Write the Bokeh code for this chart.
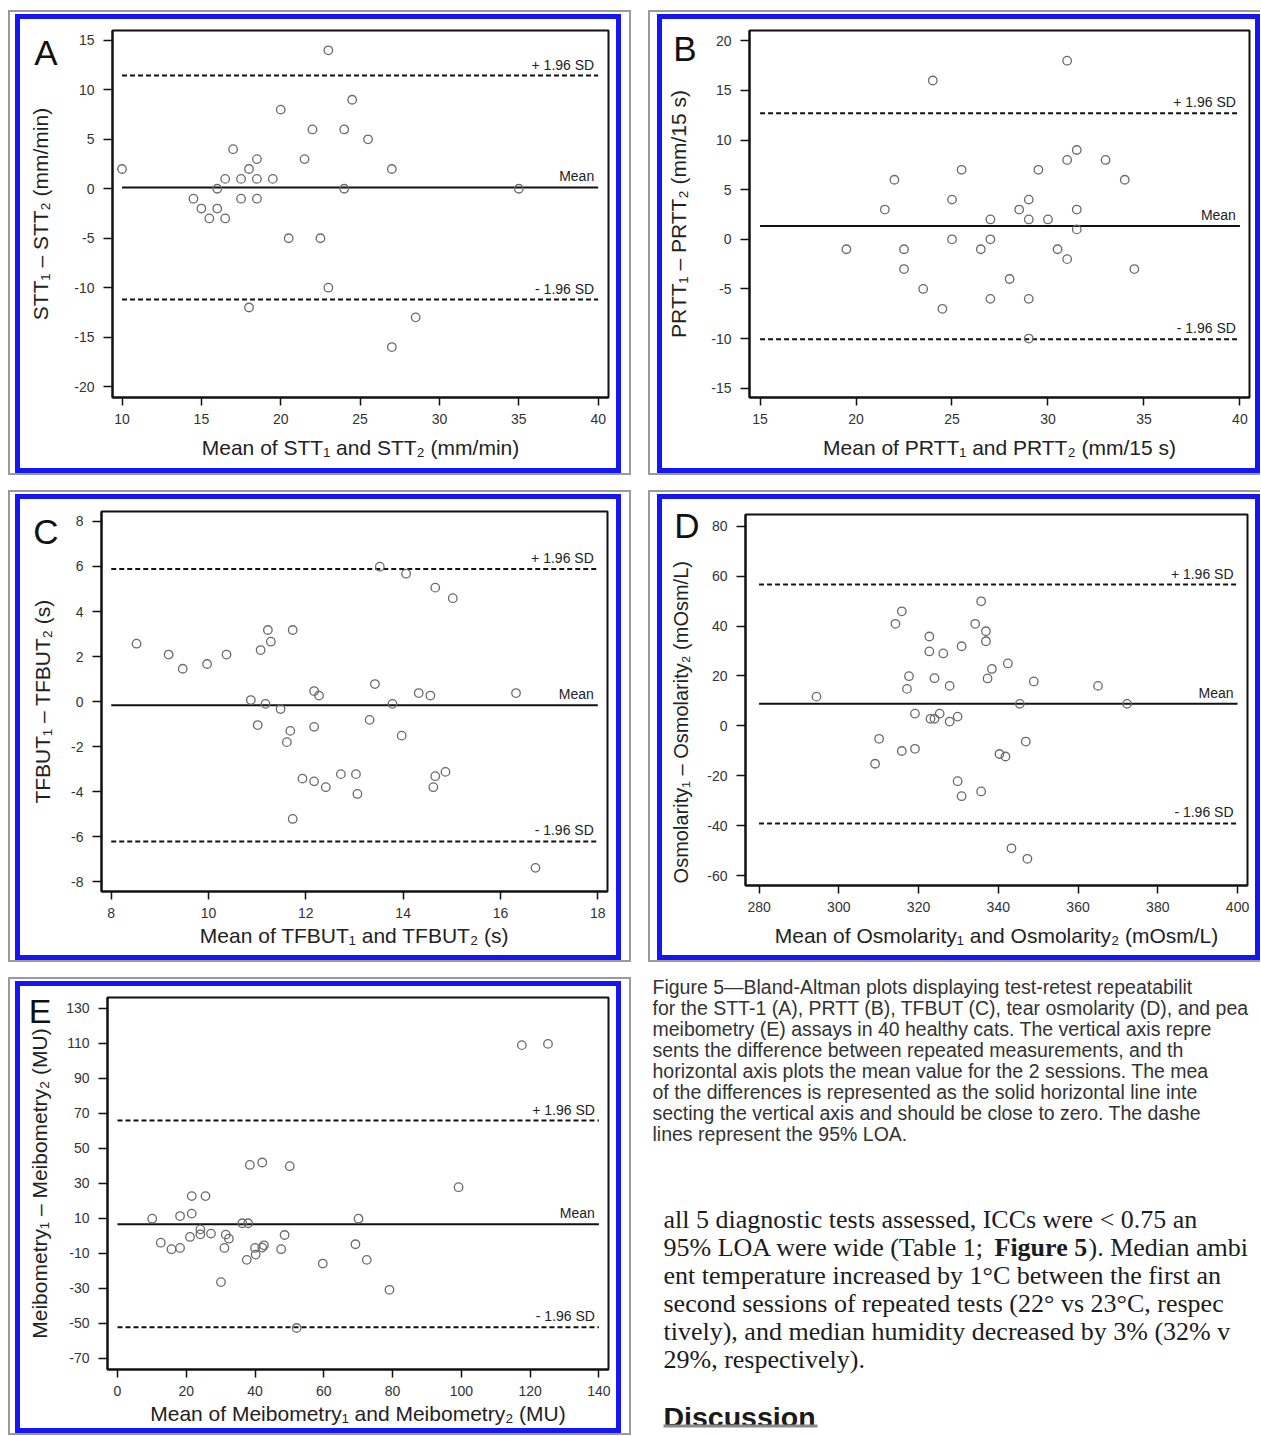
from bokeh.plotting import figure
from bokeh.models import Range1d, FixedTicker, Spacer, LinearAxis
from bokeh.layouts import row, column
from bokeh.embed import file_html
from bokeh.resources import INLINE
from bokeh.core.properties import value

# ---------------- data ----------------
# A: Schirmer tear test (STT-1)
stt_mean = [10, 14.5, 15, 15.5, 16, 16, 16.5, 16.5, 17, 17.5, 17.5, 18, 18, 18.5, 18.5, 18.5,
            19.5, 20, 20.5, 21.5, 22, 22.5, 23, 23, 24, 24, 24.5, 25.5, 27, 27, 28.5, 35]
stt_diff = [2, -1, -2, -3, 0, -2, 1, -3, 4, 1, -1, 2, -12, 3, 1, -1,
            1, 8, -5, 3, 6, -5, 14, -10, 6, 0, 9, 5, 2, -16, -13, 0]
stt_lines = [0.14, 11.45, -11.2]          # mean, +1.96 SD, -1.96 SD
stt_line_x = [10, 40]
stt_xticks = [10, 15, 20, 25, 30, 35, 40]
stt_yticks = [-20, -15, -10, -5, 0, 5, 10, 15]

# B: phenol red thread test (PRTT)
prtt_mean = [19.5, 21.5, 22, 22.5, 22.5, 23.5, 24, 24.5, 25, 25, 25.5, 26.5, 27, 27, 27, 28, 28.5,
             29, 29, 29, 29, 29.5, 30, 30.5, 31, 31, 31, 31.5, 31.5, 31.5, 33, 34, 34.5]
prtt_diff = [-1, 3, 6, -1, -3, -5, 16, -7, 4, 0, 7, -1, 2, 0, -6, -4, 3,
             4, 2, -6, -10, 7, 2, -1, 18, 8, -2, 9, 3, 1, 8, 6, -3]
prtt_lines = [1.34, 12.7, -10.07]
prtt_line_x = [15, 40]
prtt_xticks = [15, 20, 25, 30, 35, 40]
prtt_yticks = [-15, -10, -5, 0, 5, 10, 15, 20]

# C: tear film break-up time (TFBUT)
tfbut_mean = [8.52, 9.18, 9.47, 9.97, 10.37, 10.87, 11.01, 11.07, 11.17, 11.22, 11.28, 11.48,
              11.61, 11.68, 11.73, 11.73, 11.93, 12.17, 12.17, 12.17, 12.27, 12.41, 12.72, 13.03,
              13.06, 13.31, 13.42, 13.52, 13.78, 13.97, 14.06, 14.32, 14.56, 14.62, 14.66, 14.66,
              14.87, 15.02, 16.32, 16.72]
tfbut_diff = [2.57, 2.09, 1.46, 1.67, 2.09, 0.07, -1.04, 2.29, -0.10, 3.18, 2.66, -0.33,
              -1.80, -1.30, 3.18, -5.21, -3.42, 0.47, -1.12, -3.54, 0.27, -3.80, -3.22, -3.22,
              -4.10, -0.81, 0.78, 5.99, -0.10, -1.51, 5.68, 0.38, 0.27, -3.80, -3.31, 5.06,
              -3.12, 4.59, 0.38, -7.38]
tfbut_lines = [-0.16, 5.89, -6.21]
tfbut_line_x = [8, 18]
tfbut_xticks = [8, 10, 12, 14, 16, 18]
tfbut_yticks = [-8, -6, -4, -2, 0, 2, 4, 6, 8]

# D: tear osmolarity
osm_mean = [294.4, 309.1, 310.1, 314.2, 315.8, 315.8, 317.1, 317.6, 319.1, 319.1, 322.7, 322.7,
            323.0, 324.0, 324.0, 325.3, 326.2, 327.8, 327.8, 329.8, 329.8, 330.8, 330.8, 334.2,
            335.7, 335.7, 336.9, 336.9, 337.3, 338.4, 340.3, 341.8, 342.4, 343.3, 345.4, 346.9,
            347.3, 348.9, 365.0, 372.3]
osm_diff = [11.7, -15.2, -5.2, 40.9, 45.9, -10.1, 14.8, 19.9, -9.2, 4.9, 35.8, 29.8,
            2.8, 2.8, 19.1, 4.9, 29.0, 1.7, 16.0, -22.2, 3.7, 31.9, -28.2, 40.9,
            49.9, -26.3, 37.9, 33.9, 19.0, 22.8, -11.3, -12.3, 25.0, -49.1, 8.8, -6.3,
            -53.3, 17.8, 16.0, 8.8]
osm_lines = [8.8, 56.6, -39.1]
osm_line_x = [280, 400]
osm_xticks = [280, 300, 320, 340, 360, 380, 400]
osm_yticks = [-60, -40, -20, 0, 20, 40, 60, 80]

# E: meibometry
meib_mean = [10.1, 12.6, 15.7, 18.2, 18.2, 21.1, 21.6, 21.6, 24.1, 24.1, 25.6, 27.2, 30.1,
             31.1, 31.5, 32.4, 36.3, 37.6, 38.0, 38.5, 40.0, 40.2, 42.1, 42.1, 42.6, 47.6,
             48.6, 50.1, 52.1, 59.7, 69.2, 70.1, 72.5, 79.1, 99.2, 117.6, 125.2]
meib_diff = [9.8, -3.9, -7.6, 11.3, -6.9, -0.6, 22.7, 12.7, 3.7, 0.9, 22.7, 1.3, -26.4,
             -6.9, 0.7, -1.6, 7.2, -13.7, 7.2, 40.5, -6.9, -10.7, 41.9, -6.7, -5.4, -7.6,
             0.5, 39.8, -52.6, -15.8, -4.8, 9.8, -13.7, -30.8, 27.8, 108.9, 109.6]
meib_lines = [6.6, 65.8, -52.2]
meib_line_x = [0, 140]
meib_xticks = [0, 20, 40, 60, 80, 100, 120, 140]
meib_yticks = [-70, -50, -30, -10, 10, 30, 50, 70, 90, 110, 130]

line_names = ["Mean", "+ 1.96 SD", "- 1.96 SD"]

caption_lines = [
    "Figure 5\u2014Bland-Altman plots displaying test-retest repeatabilit",
    "for the STT-1 (A), PRTT (B), TFBUT (C), tear osmolarity (D), and pea",
    "meibometry (E) assays in 40 healthy cats. The vertical axis repre",
    "sents the difference between repeated measurements, and th",
    "horizontal axis plots the mean value for the 2 sessions. The mea",
    "of the differences is represented as the solid horizontal line inte",
    "secting the vertical axis and should be close to zero. The dashe",
    "lines represent the 95% LOA.",
]
body_lines = [
    "all 5 diagnostic tests assessed, ICCs were < 0.75 an",
    "95% LOA were wide (Table 1;",
    "ent temperature increased by 1\u00b0C between the first an",
    "second sessions of repeated tests (22\u00b0 vs 23\u00b0C, respec",
    "tively), and median humidity decreased by 3% (32% v",
    "29%, respectively).",
]
body_bold = "Figure 5"
body_after_bold = "). Median ambi"
heading = "Discussion"

SANS = "Liberation Sans"
SERIF = "Liberation Serif"
BLUE = "#1616f5"
GRAY = "#9a9a9a"
NBSP = "\u00a0"


def frame_styles(ins, gray_sides=(True, True, True, True), bw=5):
    L, T, R, B = ins
    fmts = ["inset {}px 0 0 0", "inset 0 {}px 0 0", "inset -{}px 0 0 0", "inset 0 -{}px 0 0"]
    sh = []
    for g, f in zip(gray_sides, fmts):
        if g:
            sh.append(f.format(2) + " " + GRAY)
    for v, f in zip((L, T, R, B), fmts):
        if v > 0:
            sh.append(f.format(v) + " #ffffff")
    for v, f in zip((L, T, R, B), fmts):
        sh.append(f.format(v + bw) + " " + BLUE)
    return {"box-shadow": ", ".join(sh)}


def lab_w(s, size):
    w = {"-": 0.333}
    return size * sum(w.get(c, 0.556) for c in s)


def panel(letter, letter_pos, letter_size, letter_w, xs, ys, lines, line_x, xlim, ylim,
          xticks, yticks, xlabel, ylabel, ylabel_x, W, H, borders, insets, gray_sides, xstand,
          ylabel_size="21px"):
    bl, br, bt, bb = borders
    p = figure(width=W, height=H, x_range=Range1d(*xlim), y_range=Range1d(*ylim),
               output_backend="svg", toolbar_location=None, frame_align=False,
               min_border_left=bl, min_border_right=br, min_border_top=bt, min_border_bottom=bb)
    p.styles = frame_styles(insets, gray_sides)
    p.border_fill_color = None
    p.background_fill_color = "white"
    p.outline_line_color = "#111111"
    p.outline_line_width = 2
    p.grid.visible = False
    p.xaxis.ticker = FixedTicker(ticks=xticks)
    p.yaxis.ticker = FixedTicker(ticks=yticks)
    p.xaxis.major_label_overrides = {t: str(t) for t in xticks}
    p.yaxis.major_label_overrides = {t: str(t) for t in yticks}
    for ax in (p.xaxis[0], p.yaxis[0]):
        ax.axis_line_color = "#111111"
        ax.axis_line_width = 2
        ax.major_tick_line_color = "#111111"
        ax.major_tick_line_width = 1.5
        ax.major_tick_in = 0
        ax.minor_tick_line_color = None
        ax.major_label_text_font = SANS
        ax.major_label_text_font_size = "14px"
        ax.major_label_text_color = "#333333"
        ax.axis_label_text_font = SANS
        ax.axis_label_text_font_size = "21px"
        ax.axis_label_text_font_style = "normal"
        ax.axis_label_text_color = "#222222"
    p.xaxis.major_tick_out = 8
    p.xaxis.major_label_standoff = 8
    p.xaxis.axis_label = xlabel
    p.xaxis.axis_label_standoff = xstand
    yax = p.yaxis[0]
    yax.major_tick_out = 9
    yax.major_label_standoff = 9

    # outer left axis: carries the panel letter (as its single tick label) and the y title
    fh = H - bt - bb
    ly = round(ylim[1] - (letter_pos[1] - bt) / fh * (ylim[1] - ylim[0]), 4)
    prim = 9 + 9 + max(lab_w(str(t), 14) for t in yticks)
    start = bl - prim
    s2 = start - (letter_pos[0] + letter_w / 2)
    als = start - s2 - letter_w - (ylabel_x + 12)
    ax2 = LinearAxis(ticker=FixedTicker(ticks=[ly]), major_label_overrides={ly: letter})
    ax2.axis_line_color = None
    ax2.major_tick_line_color = None
    ax2.minor_tick_line_color = None
    ax2.major_tick_out = 0
    ax2.major_tick_in = 0
    ax2.major_label_standoff = int(round(s2))
    ax2.major_label_text_font = SANS
    ax2.major_label_text_font_size = letter_size
    ax2.major_label_text_color = "#111111"
    ax2.axis_label = ylabel
    ax2.axis_label_standoff = int(round(als))
    ax2.axis_label_text_font = SANS
    ax2.axis_label_text_font_size = ylabel_size
    ax2.axis_label_text_font_style = "normal"
    ax2.axis_label_text_color = "#222222"
    p.add_layout(ax2, "left")

    for i, v in enumerate(lines):
        p.line(x=line_x, y=[v, v], line_color="#111111", line_width=2,
               line_dash="solid" if i == 0 else "5 3")
        p.text(x=[line_x[1]], y=[v], text=[line_names[i]], text_align="right",
               text_baseline="bottom", x_offset=-4, y_offset=-3,
               text_font=value(SANS), text_font_size=value("14px"), text_color="#222222")
    p.scatter(x=xs, y=ys, marker="circle", size=8.5, fill_color=None,
              line_color="#6a6a6a", line_width=1.3)
    return p


C1 = (7, 4, 10, 2)
C2 = (9, 4, 0, 2)
G1 = (True, True, True, True)
G2 = (True, True, False, True)

pA = panel("A", (40, 42), "35px", 23.3, stt_mean, stt_diff, stt_lines, stt_line_x,
           (9.4, 40.65), (-21.1, 16.0), stt_xticks, stt_yticks,
           "Mean of STT\u2081 and STT\u2082 (mm/min)", "STT\u2081 \u2013 STT\u2082 (mm/min)", 37.6,
           623, 465, (104, 23, 20, 78), C1, G1, 9)
pB = panel("B", (39, 38), "35px", 23.3, prtt_mean, prtt_diff, prtt_lines, prtt_line_x,
           (14.45, 40.5), (-15.94, 21.04), prtt_xticks, prtt_yticks,
           "Mean of PRTT\u2081 and PRTT\u2082 (mm/15 s)", "PRTT\u2081 \u2013 PRTT\u2082 (mm/15 s)", 35,
           612, 465, (101, 11, 20, 78), C2, G2, 9)
pC = panel("C", (40, 41), "35px", 25.3, tfbut_mean, tfbut_diff, tfbut_lines, tfbut_line_x,
           (7.8, 18.2), (-8.43, 8.44), tfbut_xticks, tfbut_yticks,
           "Mean of TFBUT\u2081 and TFBUT\u2082 (s)", "TFBUT\u2081 \u2013 TFBUT\u2082 (s)", 39.6,
           623, 472, (93, 24, 21, 71), C1, G1, 3)
pD = panel("D", (41, 35), "35px", 25.3, osm_mean, osm_diff, osm_lines, osm_line_x,
           (276.6, 402.5), (-64.0, 84.7), osm_xticks, osm_yticks,
           "Mean of Osmolarity\u2081 and Osmolarity\u2082 (mOsm/L)",
           "Osmolarity\u2081 \u2013 Osmolarity\u2082 (mOsm/L)" + NBSP * 8, 37,
           612, 472, (97, 13, 24, 77), C2, G2, 9, ylabel_size="20px")
pE = panel("E", (34, 33), "34px", 22.7, meib_mean, meib_diff, meib_lines, meib_line_x,
           (-2.9, 142.8), (-76.3, 136.1), meib_xticks, meib_yticks,
           "Mean of Meibometry\u2081 and Meibometry\u2082 (MU)",
           "Meibometry\u2081 \u2013 Meibometry\u2082 (MU)", 35.6,
           623, 458, (99, 23, 20, 66), C1, G1, 3)

# ---------------- text block ----------------
TW, TH = 612, 458
DY = -8   # compensates the offset of this borderless figure's frame
pt = figure(width=TW, height=TH, x_range=Range1d(0, TW), y_range=Range1d(TH, 0),
            output_backend="svg", toolbar_location=None, x_axis_type=None, y_axis_type=None,
            min_border=0, frame_align=False)
pt.outline_line_color = None
pt.grid.visible = False
pt.border_fill_color = None
pt.background_fill_color = None

cap_y = [17 + DY + 21 * i for i in range(len(caption_lines))]
pt.text(x=[4] * len(caption_lines), y=cap_y, text=caption_lines, text_baseline="alphabetic",
        text_font=value(SANS), text_font_size=value("19.5px"), text_color="#333333")

body_y = [250 + DY + 28 * i for i in range(len(body_lines))]
pt.text(x=[15] * len(body_lines), y=body_y, text=body_lines, text_baseline="alphabetic",
        text_font=value(SERIF), text_font_size=value("26px"), text_color="#1c1c1c")
pt.text(x=[346], y=[body_y[1]], text=[body_bold], text_baseline="alphabetic",
        text_font=value(SERIF), text_font_size=value("26px"), text_font_style="bold",
        text_color="#1c1c1c")
pt.text(x=[440], y=[body_y[1]], text=[body_after_bold], text_baseline="alphabetic",
        text_font=value(SERIF), text_font_size=value("26px"), text_color="#1c1c1c")

pt.text(x=[15], y=[447 + DY], text=[heading], text_baseline="alphabetic",
        text_font=value(SANS), text_font_size=value("28.5px"), text_font_style="bold",
        text_color="#1a1a1a")
pt.quad(left=[15], right=[169], top=[455 + DY], bottom=[458 + DY], fill_color="#8a8a8a",
        line_color=None)

layout = column(
    Spacer(width=10, height=10),
    row(Spacer(width=8, height=10), pA, Spacer(width=17, height=10), pB),
    Spacer(width=10, height=15),
    row(Spacer(width=8, height=10), pC, Spacer(width=17, height=10), pD),
    Spacer(width=10, height=15),
    row(Spacer(width=8, height=10), pE, Spacer(width=17, height=10), pt),
)

open("out.html", "w").write(file_html(layout, INLINE))
